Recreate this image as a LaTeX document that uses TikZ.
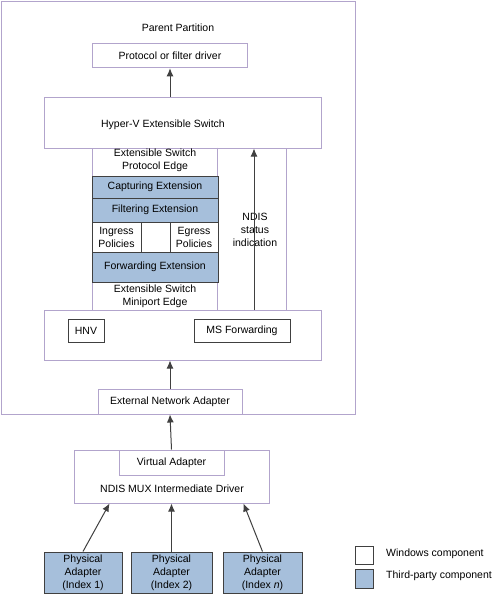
\documentclass[tikz,border=0pt]{standalone}
\usepackage{fontspec}
\setmainfont{Liberation Sans}
\usetikzlibrary{arrows.meta}
\definecolor{winline}{RGB}{178,164,204}
\definecolor{thirdfill}{RGB}{166,191,219}
\definecolor{darkline}{RGB}{64,64,64}
\tikzset{
  winbox/.style={draw=winline, fill=white, line width=1pt, inner sep=0pt},
  partybox/.style={draw=darkline, fill=thirdfill, line width=1pt, inner sep=0pt, align=center},
  plainbox/.style={draw=darkline, fill=white, line width=1pt, inner sep=0pt, align=center},
  lbl/.style={inner sep=0pt, align=center},
  arr/.style={draw=darkline, line width=1pt, -{Latex[length=8pt,width=7pt]}}
}
\begin{document}
\begin{tikzpicture}[x=1pt, y=-1pt, font=\fontsize{10.5}{13}\selectfont]
\useasboundingbox (0,0) rectangle (499,597);
% parent partition
\node[winbox, minimum width=354, minimum height=413] (parent) at (178,207.5) {};
\node[lbl] (parentlbl) at (178,28) {Parent Partition};
\node[winbox, minimum width=155.5, minimum height=24.5] (proto) at (170,55.5) {Protocol or filter driver};
% extensible switch
\node[winbox, minimum width=277, minimum height=51] (hyperv) at (182.5,122.5) {};
\node[lbl] (hypervlbl) at (163,125) {Hyper-V Extensible Switch};
\node[winbox, minimum width=194, minimum height=162] (column) at (189,229) {};
\draw[winline, line width=1pt] (column.north west) ++(126,0) coordinate (split) -- (split |- column.south);
\node[lbl] (protoedge) at (155,160.5) {Extensible Switch\\Protocol Edge};
\node[partybox, minimum width=126, minimum height=22] (capture) at (155,187) {Capturing Extension};
\node[partybox, minimum width=126, minimum height=24] (filter) at (155,210) {Filtering Extension};
\node[plainbox, minimum width=49, minimum height=30] (ingress) at (116.5,237) {Ingress\\Policies};
\node[plainbox, minimum width=48, minimum height=30] (egress) at (194,237) {Egress\\Policies};
\node[partybox, minimum width=126, minimum height=30] (forward) at (155,267) {Forwarding Extension};
\node[lbl] (miniedge) at (155,296.5) {Extensible Switch\\Miniport Edge};
\node[winbox, minimum width=277, minimum height=50] (bottom) at (182.5,335) {};
\node[plainbox, minimum width=36, minimum height=23] (hnv) at (86,330.5) {HNV};
\node[plainbox, minimum width=96, minimum height=23] (msfwd) at (242,330.5) {MS Forwarding};
\node[lbl] (status) at (255,229.5) {NDIS\\status\\indication};
\node[winbox, minimum width=144, minimum height=25] (ext) at (170,401.5) {External Network Adapter};
% MUX driver and physical adapters
\node[winbox, minimum width=195, minimum height=53] (mux) at (171.5,476.5) {};
\node[winbox, minimum width=105, minimum height=25] (virtual) at (171.5,462.5) {Virtual Adapter};
\node[lbl] (muxlbl) at (172,489) {NDIS MUX Intermediate Driver};
\node[partybox, minimum width=78, minimum height=41] (phys1) at (83,572.5) {Physical\\Adapter\\(Index 1)};
\node[partybox, minimum width=81, minimum height=41] (phys2) at (171.5,572.5) {Physical\\Adapter\\(Index 2)};
\node[partybox, minimum width=79, minimum height=41] (phys3) at (262.5,572.5) {Physical\\Adapter\\(Index \textit{n})};
% legend
\node[plainbox, minimum width=18, minimum height=18] (keywin) at (364,555) {};
\node[partybox, minimum width=18, minimum height=19] (keyparty) at (364,578.5) {};
\node[lbl, anchor=west] (keywinlbl) at (386,554) {Windows component};
\node[lbl, anchor=west] (keypartylbl) at (386,576) {Third-party component};
% arrows
\coordinate (statusfoot) at (254,310);
\draw[arr] (hyperv.north -| proto.south) -- (proto.south);
\draw[arr] (statusfoot) -- (statusfoot |- hyperv.south);
\draw[arr] (ext.north) -- (ext.north |- bottom.south);
\draw[arr] (virtual.north) -- (ext.south);
\draw[arr] (phys1.north) -- ([xshift=36]mux.south west);
\draw[arr] (phys2.north) -- (mux.south);
\draw[arr] (phys3.north) -- ([xshift=-26]mux.south east);
\end{tikzpicture}
\end{document}
